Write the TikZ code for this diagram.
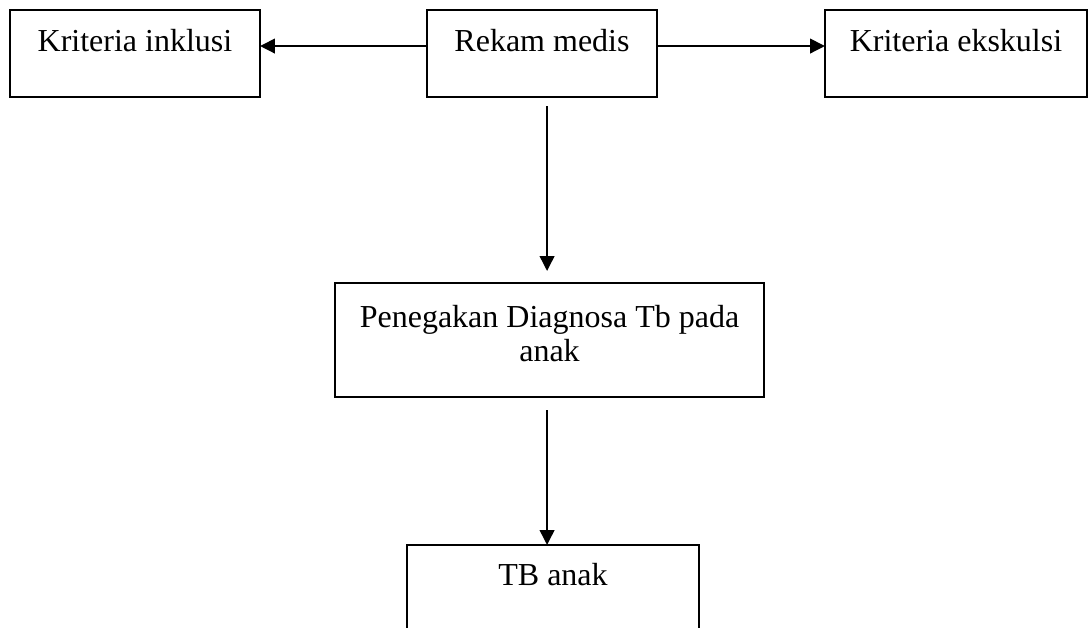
\documentclass[tikz,border=0pt]{standalone}
\usepackage{fontspec}
\setmainfont{Liberation Serif}
\usetikzlibrary{arrows.meta}

\tikzset{
  box/.style={draw, line width=0.75pt, inner sep=0pt, outer sep=0pt,
    font=\fontsize{12}{12.8}\selectfont, text height=15.75pt, text depth=16.9pt},
}

\begin{document}
\begin{tikzpicture}[x=0.375pt, y=-0.375pt, >={Triangle[length=5.6pt,width=5.4pt]}, line width=1pt]

\useasboundingbox (0,0) rectangle (1089,627);
\clip (0,0) rectangle (1089,627);

\node[box, minimum width=93.75pt] (inklusi) at (135,53.5) {Kriteria inklusi};

\node[box, minimum width=86.25pt] (rekam) at (542,53.5) {Rekam medis};

\node[box, minimum width=98.25pt] (ekskulsi) at (956,53.5) {Kriteria ekskulsi};

\node[box, anchor=north, minimum width=160.9pt, align=center, text height=29.5pt, text depth=13.25pt] (diag) at (549.5,283) {Penegakan Diagnosa Tb pada\\ anak};

\node[box, anchor=north, minimum width=109.5pt, text height=15pt, text depth=45pt] (tb) at (553,545) {TB anak};

\draw[->] ([yshift=2.8pt]rekam.west) -- ([yshift=2.8pt]rekam.west -| inklusi.east);
\draw[->] ([yshift=2.8pt]rekam.east) -- ([yshift=2.8pt]rekam.east -| ekskulsi.west);

\draw[->, shorten <=3.4pt, shorten >=4.5pt] ([xshift=1.9pt]rekam.south) -- ([xshift=1.9pt]rekam.south |- diag.north);
\draw[->, shorten <=4.9pt] ([xshift=1.9pt]rekam.south |- diag.south) -- ([xshift=1.9pt]rekam.south |- tb.north);

\end{tikzpicture}
\end{document}
